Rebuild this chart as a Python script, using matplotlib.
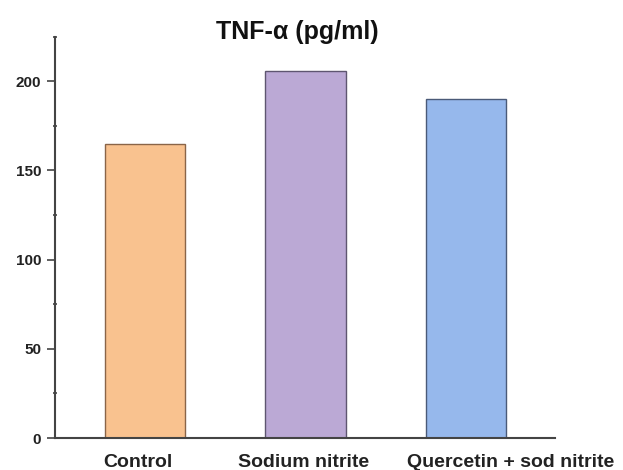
import matplotlib
matplotlib.use("Agg")
import matplotlib.pyplot as plt
from matplotlib.ticker import MultipleLocator

plt.rcParams['font.family'] = ['Liberation Sans', 'DejaVu Sans']

groups = ["Control", "Sodium nitrite", "Quercetin + sod nitrite"]
tnf_alpha = [165, 206, 190]
bar_colors = ["#F9C28F", "#BBA9D5", "#96B8EC"]
edge_colors = ["#8a6548", "#5e5670", "#4a5a78"]

# horizontal nudges (pixels) for the category labels
label_shift = [-7, -2, 45]

fig = plt.figure(figsize=(6.23, 4.70), dpi=100)
ax = fig.add_axes([0.0883, 0.068, 0.8025, 0.854])

x = list(range(len(groups)))
ax.bar(x, tnf_alpha, width=0.5, color=bar_colors, edgecolor=edge_colors, linewidth=1.0)

ax.set_xlim(-0.561, 2.555)
ax.set_ylim(0, 225)
ax.yaxis.set_major_locator(MultipleLocator(50))
ax.yaxis.set_minor_locator(MultipleLocator(25))

for s in ("top", "right"):
    ax.spines[s].set_visible(False)
for s in ("left", "bottom"):
    ax.spines[s].set_color("#444444")
    ax.spines[s].set_linewidth(1.5)

ax.set_xticks(x)
ax.set_xticklabels([])
ax.tick_params(axis="x", length=0)
ax.tick_params(axis="y", which="major", length=6, width=1.2, labelsize=11,
               color="#444444", labelcolor="#222222", pad=4)
ax.tick_params(axis="y", which="minor", length=2.5, width=1.2, color="#444444",
               direction="inout")
for lbl in ax.get_yticklabels():
    lbl.set_fontweight("bold")

for xi, name, dx in zip(x, groups, label_shift):
    ax.annotate(name, xy=(xi, 0), xycoords=("data", "axes fraction"),
                xytext=(dx, -29), textcoords="offset pixels",
                ha="center", va="baseline", fontsize=14, fontweight="bold",
                color="#222222", annotation_clip=False)

fig.text(0.478, 0.918, "TNF-α (pg/ml)", ha="center", va="baseline",
         fontsize=18, fontweight="bold", color="#111111")

fig.savefig("out.png", dpi=100)
